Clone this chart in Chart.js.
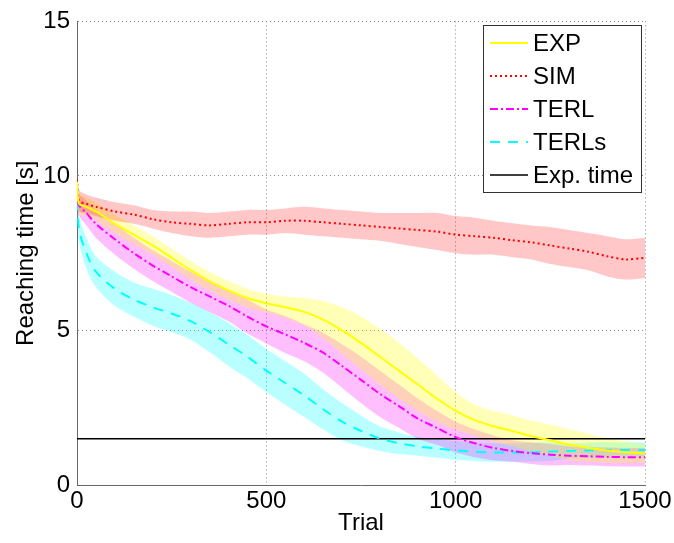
<!DOCTYPE html>
<html>
<head>
<meta charset="utf-8">
<script src="https://cdn.jsdelivr.net/npm/chart.js@4"></script>
<style>
  body { margin: 0; background: #fff; }
  canvas { display: block; }
</style>
</head>
<body>
<canvas id="rtChart" width="674" height="543"></canvas>
<script>
const trials = [0, 5, 25, 50, 100, 150, 200, 250, 300, 350, 400, 450, 500, 550, 600, 650, 700, 750, 800, 850, 900, 950, 1000, 1050, 1100, 1150, 1200, 1250, 1300, 1350, 1400, 1450, 1500];

// Mean reaching time [s]
const expMean = [9.8, 9.1, 9.0, 8.85, 8.45, 8.1, 7.75, 7.35, 6.95, 6.6, 6.3, 6.05, 5.88, 5.75, 5.6, 5.35, 5.0, 4.6, 4.15, 3.7, 3.25, 2.8, 2.4, 2.1, 1.9, 1.75, 1.58, 1.45, 1.3, 1.2, 1.12, 1.06, 1.02];
const simMean = [9.9, 9.2, 9.1, 9.0, 8.85, 8.75, 8.6, 8.5, 8.45, 8.4, 8.45, 8.5, 8.5, 8.55, 8.55, 8.5, 8.45, 8.4, 8.35, 8.3, 8.25, 8.2, 8.1, 8.05, 8.0, 7.92, 7.85, 7.75, 7.65, 7.55, 7.4, 7.3, 7.35];
const terlMean = [9.2, 9.05, 8.8, 8.45, 7.95, 7.5, 7.1, 6.75, 6.4, 6.1, 5.8, 5.45, 5.13, 4.87, 4.6, 4.28, 3.85, 3.4, 2.95, 2.55, 2.15, 1.85, 1.55, 1.35, 1.2, 1.1, 1.03, 0.98, 0.95, 0.93, 0.91, 0.9, 0.9];
const terlsMean = [9.8, 8.3, 7.5, 6.9, 6.35, 6.0, 5.75, 5.55, 5.3, 4.95, 4.55, 4.15, 3.7, 3.3, 2.9, 2.45, 2.05, 1.75, 1.5, 1.35, 1.25, 1.18, 1.12, 1.08, 1.05, 1.05, 1.06, 1.08, 1.1, 1.12, 1.13, 1.13, 1.13];

// Half-width of the shaded band around each mean
const expSpread = [0.4, 0.35, 0.3, 0.3, 0.3, 0.3, 0.3, 0.3, 0.3, 0.3, 0.3, 0.3, 0.3, 0.35, 0.45, 0.6, 0.75, 0.85, 0.9, 0.9, 0.85, 0.75, 0.6, 0.5, 0.5, 0.5, 0.5, 0.5, 0.5, 0.45, 0.4, 0.35, 0.3];
const simSpread = [0.4, 0.35, 0.3, 0.3, 0.3, 0.3, 0.3, 0.35, 0.4, 0.4, 0.4, 0.4, 0.4, 0.4, 0.45, 0.45, 0.45, 0.45, 0.45, 0.5, 0.55, 0.6, 0.6, 0.6, 0.55, 0.55, 0.55, 0.6, 0.6, 0.6, 0.65, 0.65, 0.65];
const terlSpread = [0.3, 0.35, 0.4, 0.45, 0.5, 0.5, 0.5, 0.5, 0.5, 0.5, 0.5, 0.55, 0.55, 0.6, 0.6, 0.65, 0.7, 0.75, 0.75, 0.7, 0.65, 0.55, 0.5, 0.45, 0.4, 0.35, 0.35, 0.35, 0.3, 0.3, 0.3, 0.3, 0.3];
const terlsSpread = [0.3, 0.4, 0.5, 0.5, 0.55, 0.55, 0.6, 0.6, 0.6, 0.65, 0.7, 0.7, 0.7, 0.7, 0.7, 0.65, 0.6, 0.5, 0.4, 0.35, 0.3, 0.3, 0.3, 0.3, 0.3, 0.3, 0.3, 0.3, 0.25, 0.25, 0.25, 0.25, 0.25];

// Expected time reference line
const expTimeTrials = [0, 1500];
const expTimeValues = [1.5, 1.5];

const yTicks = [0, 5, 10, 15];
const xTicks = [0, 500, 1000, 1500];

const FONT = "'Liberation Sans', Arial, sans-serif";

function pts(xs, ys) {
  return xs.map((x, i) => ({ x: x, y: ys[i] }));
}

function band(mean, spread, sign) {
  return trials.map((x, i) => ({ x: x, y: mean[i] + sign * spread[i] }));
}

// lower edge + upper edge filled to the lower one
function bandSets(mean, spread, fillColor, idx) {
  return [
    {
      label: "_lo",
      data: band(mean, spread, -1),
      borderWidth: 0,
      pointRadius: 0,
      fill: false,
      tension: 0.3,
      order: 10,
    },
    {
      label: "_hi",
      data: band(mean, spread, 1),
      borderWidth: 0,
      pointRadius: 0,
      fill: idx,
      backgroundColor: fillColor,
      tension: 0.3,
      order: 10,
    },
  ];
}

const lineSets = [
  { label: "EXP", data: pts(trials, expMean), borderColor: "#ffff00", borderWidth: 2, borderDash: [] },
  { label: "SIM", data: pts(trials, simMean), borderColor: "#ff0000", borderWidth: 2, borderDash: [2, 3] },
  { label: "TERL", data: pts(trials, terlMean), borderColor: "#ff00ff", borderWidth: 2, borderDash: [8, 3, 2, 3] },
  { label: "TERLs", data: pts(trials, terlsMean), borderColor: "#00ffff", borderWidth: 2, borderDash: [10, 8] },
  { label: "Exp. time", data: pts(expTimeTrials, expTimeValues), borderColor: "#000000", borderWidth: 1.5, borderDash: [] },
].map((d) => Object.assign(d, { pointRadius: 0, fill: false, tension: 0.3, order: 0 }));

const datasets = []
  .concat(bandSets(simMean, simSpread, "rgba(255,0,0,0.22)", 0))
  .concat(bandSets(expMean, expSpread, "rgba(255,255,0,0.28)", 2))
  .concat(bandSets(terlMean, terlSpread, "rgba(255,0,255,0.25)", 4))
  .concat(bandSets(terlsMean, terlsSpread, "rgba(0,255,255,0.27)", 6))
  .concat(lineSets);

// legend box drawn inside the plot, top right
const boxLegend = {
  id: "boxLegend",
  afterDraw(chart) {
    const c = chart.ctx;
    const left = 483, top = 25, right = 641, bottom = 192;
    c.save();
    c.fillStyle = "#fff";
    c.fillRect(left, top, right - left, bottom - top);
    c.strokeStyle = "#333";
    c.lineWidth = 1;
    c.setLineDash([]);
    c.strokeRect(left + 0.5, top + 0.5, right - left, bottom - top);
    c.font = "24px " + FONT;
    c.textBaseline = "middle";
    c.fillStyle = "#000";
    lineSets.forEach((d, i) => {
      const y = 43 + i * 33;
      c.strokeStyle = d.borderColor;
      c.lineWidth = d.borderWidth;
      c.setLineDash(d.borderDash);
      c.beginPath();
      c.moveTo(490, y);
      c.lineTo(528, y);
      c.stroke();
      c.fillText(d.label, 533, y + 1);
    });
    c.restore();
  },
};

const ctx = document.getElementById("rtChart").getContext("2d");

const rtChart = new Chart(ctx, {
  type: "line",
  data: { datasets: datasets },
  options: {
    responsive: false,
    animation: false,
    layout: { padding: { top: 19, right: 29, left: 0, bottom: 0 } },
    plugins: {
      legend: { display: false },
      tooltip: { enabled: false },
    },
    scales: {
      x: {
        type: "linear",
        min: 0,
        max: 1500,
        afterBuildTicks: (s) => { s.ticks = xTicks.map((v) => ({ value: v })); },
        afterFit: (s) => { s.height = 58; },
        ticks: { color: "#000", font: { size: 24, family: FONT }, padding: 2, maxRotation: 0, callback: (v) => String(v) },
        grid: { color: "#888", drawTicks: false },
        border: { color: "#666", dash: [1, 3] },
        title: { display: true, text: "Trial", color: "#000", font: { size: 24, family: FONT }, padding: { top: 0, bottom: 5 } },
      },
      y: {
        min: 0,
        max: 15,
        afterBuildTicks: (s) => { s.ticks = yTicks.map((v) => ({ value: v })); },
        afterFit: (s) => { s.width = 77; },
        ticks: { color: "#000", font: { size: 24, family: FONT }, padding: 7, callback: (v) => String(v) },
        grid: { color: "#888", drawTicks: false },
        border: { color: "#666", dash: [1, 3] },
        title: { display: true, text: "Reaching time [s]", color: "#000", font: { size: 24, family: FONT }, padding: { top: 12, bottom: 0 } },
      },
    },
  },
  plugins: [boxLegend],
});
</script>
</body>
</html>
